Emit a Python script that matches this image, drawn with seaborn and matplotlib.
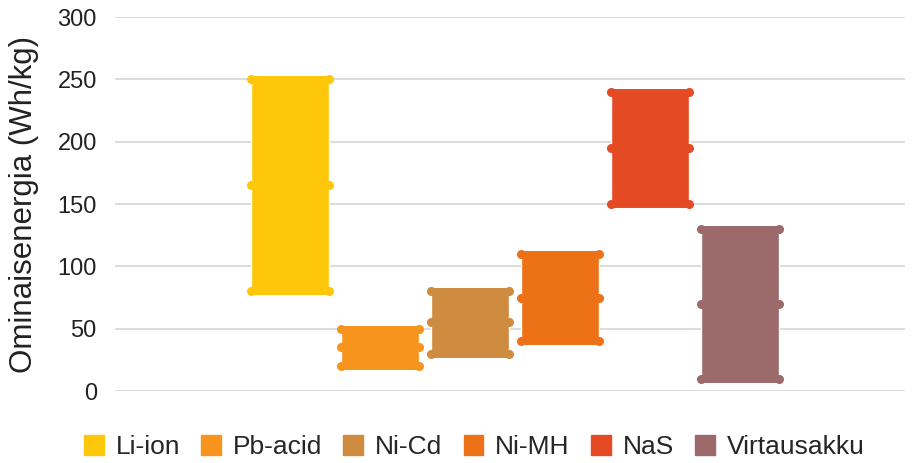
import matplotlib
matplotlib.use("Agg")
import matplotlib.pyplot as plt
import seaborn as sns
import pandas as pd

# Specific energy ranges of battery technologies (Wh/kg)
technologies = ["Li-ion", "Pb-acid", "Ni-Cd", "Ni-MH", "NaS", "Virtausakku"]
min_vals = [80, 20, 30, 40, 150, 10]
mid_vals = [165, 35, 55, 75, 195, 70]
max_vals = [250, 50, 80, 110, 240, 130]
colors = ["#FFC709", "#F7941E", "#CF8B3F", "#EC7117", "#E44A23", "#9C6A6A"]
y_ticks = [0, 50, 100, 150, 200, 250, 300]

sns.set_style("white")
plt.rcParams["font.family"] = ["Liberation Sans", "DejaVu Sans"]

df = pd.DataFrame({
    "group": [""] * len(technologies),
    "tech": technologies,
    "span": [hi - lo for lo, hi in zip(min_vals, max_vals)],
})

fig = plt.figure(figsize=(9.19, 4.63), dpi=100)
ax = fig.add_axes([0.125, 0.1555, 0.86, 0.8075])

sns.barplot(data=df, x="group", y="span", hue="tech", hue_order=technologies,
            palette=colors, gap=0.08, width=0.8, ax=ax, legend=False,
            errorbar=None, saturation=1, zorder=3)

# Lift each bar so it floats between its min and max value,
# with small round knobs on the edges at min, mid and max
inset = 0.004
for cont, lo, mid, hi, col in zip(ax.containers, min_vals, mid_vals, max_vals, colors):
    patch = cont.patches[0]
    patch.set_y(lo)
    x0 = patch.get_x() + inset
    x1 = patch.get_x() + patch.get_width() - inset
    patch.set_x(x0)
    patch.set_width(x1 - x0)
    for yv in (lo, hi):
        ax.plot([x0, x1], [yv, yv], color=col, lw=5, solid_capstyle="round", zorder=4)
    ax.plot([x0, x1, x0, x1, x0, x1], [lo, lo, mid, mid, hi, hi], ls="none",
            marker="o", ms=5.5, color=col, mec=col, zorder=5)

ax.set_xlim(-0.593, 0.578)
ax.set_ylim(0, 300)
ax.set_yticks(y_ticks)
ax.set_yticklabels([str(t) for t in y_ticks], fontsize=17, color="#222222")
ax.tick_params(axis="y", length=0, pad=13)
ax.set_xticks([])
ax.set_xlabel("")
ax.set_ylabel("Ominaisenergia (Wh/kg)", fontsize=22.5, color="#222222", labelpad=13)
ax.yaxis.grid(True, color="#D9D9D9", lw=1.3, zorder=0)
ax.set_axisbelow(True)
for s in ax.spines.values():
    s.set_visible(False)

handles = [plt.Rectangle((0, 0), 1, 1, color=c) for c in colors]
fig.legend(handles, technologies, loc="center", bbox_to_anchor=(0.516, 0.034),
           ncol=6, frameon=False, fontsize=19, handlelength=0.75, handleheight=0.75,
           handletextpad=0.45, columnspacing=0.8)

fig.savefig("out.png", dpi=100)
